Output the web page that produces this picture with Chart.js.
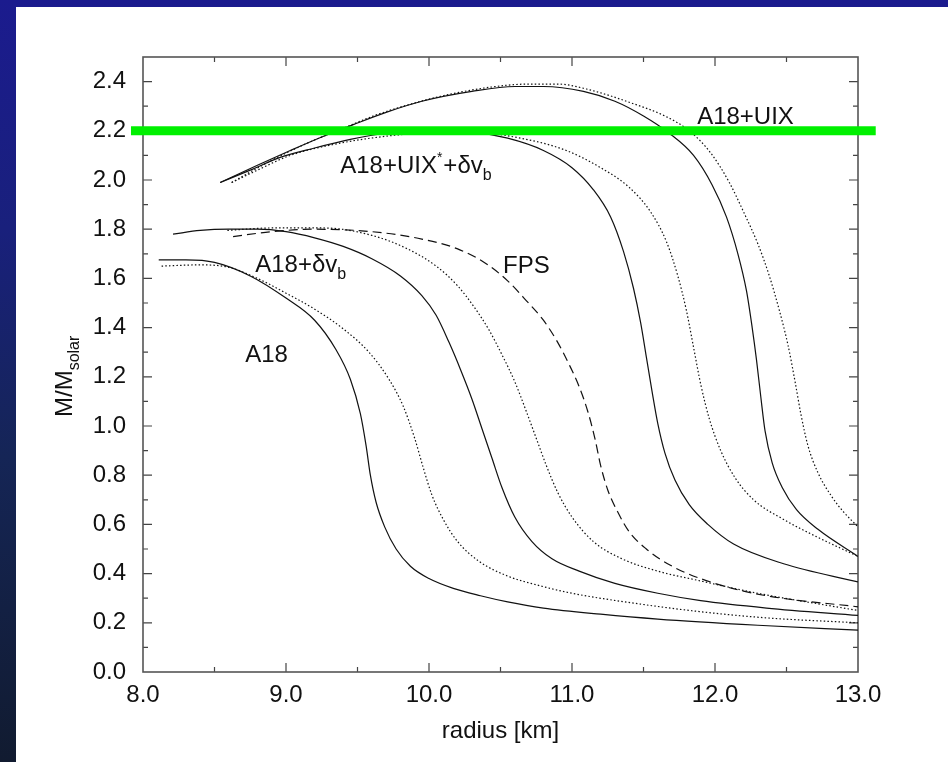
<!DOCTYPE html>
<html><head><meta charset="utf-8">
<script src="https://cdn.jsdelivr.net/npm/chart.js@4.4.1/dist/chart.umd.min.js"></script>
<style>
html,body{margin:0;padding:0;}
body{width:948px;height:762px;overflow:hidden;position:relative;
background:linear-gradient(to bottom,#1b1b8e 0%,#19207c 30%,#152556 60%,#111b30 100%);}
#wrap{position:absolute;left:16px;top:7px;width:932px;height:755px;background:#fff;}
canvas{display:block;}
</style></head><body>
<div id="wrap"><canvas id="c" width="932" height="755"></canvas></div>
<script>
const FONT = '"Liberation Sans", Arial, Helvetica, sans-serif';

// ---- data: radius [km] and M/Msolar for each curve ----
const A18_SOLID_R = [8.11,8.3,8.5,8.75,9.0,9.2,9.35,9.45,9.52,9.56,9.59,9.63,9.69,9.77,9.87,10.0,10.17,10.36,10.55,10.8,11.2,11.6,12.3,13.0];
const A18_SOLID_M = [1.675,1.675,1.665,1.61,1.52,1.43,1.31,1.19,1.05,0.92,0.80,0.69,0.59,0.50,0.43,0.38,0.34,0.31,0.285,0.26,0.235,0.215,0.19,0.17];

const A18_DOT_R = [8.13,8.4,8.6,8.8,9.0,9.2,9.4,9.58,9.72,9.82,9.9,9.96,10.02,10.1,10.2,10.35,10.55,10.78,11.0,11.43,11.9,12.36,13.0];
const A18_DOT_M = [1.65,1.655,1.645,1.60,1.54,1.475,1.395,1.30,1.19,1.08,0.95,0.83,0.72,0.62,0.53,0.45,0.39,0.35,0.32,0.28,0.245,0.22,0.20];

const DV_SOLID_R = [8.21,8.4,8.6,8.8,9.0,9.2,9.4,9.6,9.8,9.95,10.05,10.14,10.22,10.30,10.37,10.44,10.51,10.60,10.72,10.86,11.05,11.3,11.6,11.9,12.36,13.0];
const DV_SOLID_M = [1.78,1.795,1.80,1.80,1.79,1.765,1.73,1.68,1.61,1.53,1.45,1.34,1.23,1.11,0.99,0.87,0.75,0.63,0.53,0.46,0.41,0.36,0.32,0.29,0.26,0.23];

const DV_DOT_R = [8.59,8.9,9.26,9.6,9.85,10.05,10.2,10.32,10.42,10.51,10.6,10.68,10.75,10.82,10.9,11.0,11.15,11.35,11.6,11.9,12.3,13.0];
const DV_DOT_M = [1.795,1.805,1.805,1.775,1.72,1.65,1.57,1.48,1.39,1.29,1.18,1.06,0.95,0.84,0.73,0.63,0.53,0.46,0.41,0.37,0.32,0.25];

const FPS_R = [8.63,8.9,9.2,9.6,9.95,10.2,10.4,10.55,10.68,10.8,10.9,10.98,11.05,11.11,11.16,11.2,11.25,11.32,11.4,11.52,11.7,12.0,12.36,13.0];
const FPS_M = [1.77,1.79,1.80,1.79,1.76,1.72,1.66,1.59,1.51,1.43,1.34,1.25,1.16,1.06,0.95,0.84,0.74,0.65,0.57,0.50,0.43,0.36,0.31,0.265];

const UIXS_SOLID_R = [8.54,8.75,8.95,9.2,9.45,9.7,10.0,10.3,10.55,10.8,11.0,11.15,11.27,11.36,11.43,11.48,11.52,11.56,11.6,11.65,11.72,11.82,11.95,12.13,12.48,13.0];
const UIXS_SOLID_M = [1.99,2.04,2.09,2.13,2.165,2.19,2.20,2.195,2.17,2.12,2.05,1.96,1.85,1.71,1.56,1.42,1.28,1.14,1.01,0.89,0.78,0.68,0.60,0.52,0.44,0.366];

const UIXS_DOT_R = [8.62,8.8,9.03,9.38,9.73,10.2,10.64,10.96,11.2,11.4,11.55,11.66,11.74,11.8,11.85,11.9,11.96,12.04,12.14,12.27,12.48,12.71,13.0];
const UIXS_DOT_M = [1.99,2.04,2.10,2.15,2.18,2.20,2.17,2.12,2.05,1.97,1.87,1.75,1.61,1.47,1.32,1.17,1.03,0.90,0.79,0.70,0.62,0.55,0.47];

const UIX_SOLID_R = [8.54,8.8,9.03,9.25,9.47,9.7,9.95,10.3,10.6,10.8,11.08,11.3,11.5,11.68,11.85,11.98,12.08,12.16,12.22,12.26,12.29,12.32,12.35,12.40,12.47,12.57,12.72,13.0];
const UIX_SOLID_M = [1.99,2.06,2.12,2.175,2.225,2.275,2.32,2.36,2.38,2.38,2.36,2.32,2.26,2.19,2.10,1.98,1.85,1.70,1.55,1.40,1.27,1.12,0.98,0.85,0.75,0.66,0.58,0.47];

const UIX_DOT_R = [8.62,8.9,9.15,9.4,9.61,9.85,10.08,10.4,10.7,10.9,11.1,11.43,11.65,11.82,11.97,12.1,12.2,12.3,12.38,12.45,12.51,12.56,12.6,12.65,12.72,12.82,12.9,13.0];
const UIX_DOT_M = [1.99,2.08,2.15,2.21,2.26,2.305,2.34,2.375,2.39,2.39,2.37,2.31,2.26,2.20,2.11,1.99,1.87,1.74,1.61,1.47,1.33,1.18,1.05,0.92,0.81,0.71,0.65,0.59];

const GREEN_R = [7.916,13.124];
const GREEN_M = [2.2,2.2];

// ---- text ----
const LABEL_TEXT = ['A18+UIX','A18+UIX^{*}+δv_{b}','A18+δv_{b}','FPS','A18'];
const LABEL_R    = [11.875, 9.379, 8.785, 10.518, 8.715];
const LABEL_M    = [2.226, 2.029, 1.627, 1.623, 1.261];
const X_TITLE = 'radius [km]';
const Y_TITLE = 'M/M_{solar}';

function pts(r,m){ return r.map((v,i)=>({x:v,y:m[i]})); }
const DOT = [1.5,2.2], DASH = [9,5], SOLID = [];
function line(r,m,dash){
  return {data:pts(r,m), showLine:true, pointRadius:0, borderColor:'#111', borderWidth:1.2,
    borderDash:dash, cubicInterpolationMode:'monotone', fill:false};
}

function drawRich(ctx, str, x, y, size){
  let cx = x, i = 0;
  ctx.textBaseline = 'alphabetic'; ctx.textAlign = 'left';
  while (i < str.length){
    const ch = str[i];
    if ((ch === '_' || ch === '^') && str[i+1] === '{'){
      const end = str.indexOf('}', i);
      const t = str.slice(i+2, end);
      const fs = ch === '_' ? Math.round(size*0.67) : Math.round(size*0.6);
      const dy = ch === '_' ? size*0.3 : -size*0.45;
      ctx.font = fs + 'px ' + FONT;
      ctx.fillText(t, cx, y + dy);
      cx += ctx.measureText(t).width + (ch==='^'?1:0);
      i = end + 1; continue;
    }
    let j = i;
    while (j < str.length && !((str[j]==='_'||str[j]==='^') && str[j+1]==='{')) j++;
    const run = str.slice(i, j);
    ctx.font = size + 'px ' + FONT;
    ctx.fillText(run, cx, y);
    cx += ctx.measureText(run).width;
    i = j;
  }
}

const framePlugin = {
  id: 'frame',
  beforeDatasetsDraw(chart){
    const {ctx, chartArea:a, scales:{x, y}} = chart;
    ctx.save();
    ctx.strokeStyle = '#444'; ctx.lineWidth = 1.2;
    for (let i = 1; i < 25; i++){
      const py = y.getPixelForValue(i/10), L = (i%2===0) ? 9 : 5;
      ctx.beginPath();
      ctx.moveTo(a.left, py); ctx.lineTo(a.left+L, py);
      ctx.moveTo(a.right, py); ctx.lineTo(a.right-L, py);
      ctx.stroke();
    }
    for (let i = 1; i < 10; i++){
      const px = x.getPixelForValue(8 + i*0.5), L = (i%2===0) ? 9 : 5;
      ctx.beginPath();
      ctx.moveTo(px, a.bottom); ctx.lineTo(px, a.bottom-L);
      ctx.moveTo(px, a.top); ctx.lineTo(px, a.top+L);
      ctx.stroke();
    }
    ctx.strokeStyle = '#555'; ctx.lineWidth = 1.6;
    ctx.strokeRect(a.left, a.top, a.right-a.left, a.bottom-a.top);
    // curve labels
    ctx.fillStyle = '#111';
    LABEL_TEXT.forEach((t, k) => {
      drawRich(ctx, t, x.getPixelForValue(LABEL_R[k]), y.getPixelForValue(LABEL_M[k]), 24);
    });
    // y title
    ctx.translate(56, 410);
    ctx.rotate(-Math.PI/2);
    drawRich(ctx, Y_TITLE, 0, 0, 24);
    ctx.restore();
  }
};

new Chart(document.getElementById('c'), {
  type: 'scatter',
  data: { datasets: [
    {data:pts(GREEN_R,GREEN_M), showLine:true, pointRadius:0, borderColor:'#00f000', borderWidth:9, clip:false},
    line(A18_SOLID_R, A18_SOLID_M, SOLID),
    line(A18_DOT_R, A18_DOT_M, DOT),
    line(DV_SOLID_R, DV_SOLID_M, SOLID),
    line(DV_DOT_R, DV_DOT_M, DOT),
    line(FPS_R, FPS_M, DASH),
    line(UIXS_SOLID_R, UIXS_SOLID_M, SOLID),
    line(UIXS_DOT_R, UIXS_DOT_M, DOT),
    line(UIX_SOLID_R, UIX_SOLID_M, SOLID),
    line(UIX_DOT_R, UIX_DOT_M, DOT)
  ]},
  options: {
    responsive:false, animation:false, devicePixelRatio:1,
    layout:{padding:{left:0, top:50, right:90, bottom:0}},
    plugins:{legend:{display:false}, tooltip:{enabled:false}},
    scales:{
      x:{type:'linear', min:8, max:13,
        afterFit(s){ s.height = 90; },
        grid:{display:false, drawTicks:false}, border:{display:false},
        ticks:{stepSize:1, padding:9, color:'#111', font:{family:FONT, size:24},
          callback:v=>Number(v).toFixed(1)},
        title:{display:true, text:X_TITLE, color:'#111', font:{family:FONT, size:24}, padding:{top:0, bottom:16}}
      },
      y:{type:'linear', min:0, max:2.5,
        afterFit(s){ s.width = 127; },
        grid:{display:false, drawTicks:false}, border:{display:false},
        ticks:{stepSize:0.2, includeBounds:false, padding:17, color:'#111', font:{family:FONT, size:24},
          callback:v=>Number(v).toFixed(1)}
      }
    }
  },
  plugins:[framePlugin]
});
</script></body></html>
